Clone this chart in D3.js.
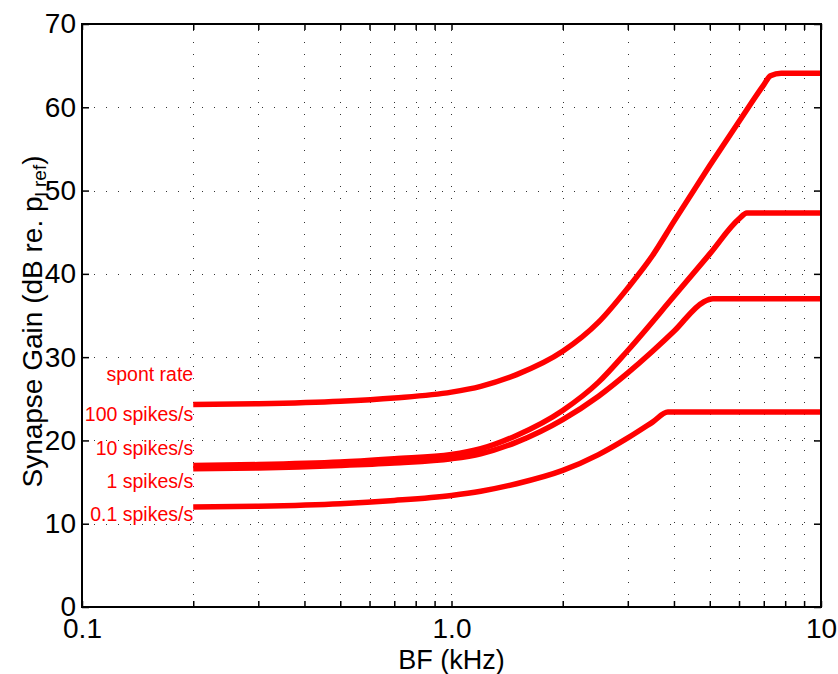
<!DOCTYPE html>
<html>
<head>
<meta charset="utf-8">
<script src="https://cdn.jsdelivr.net/npm/d3@7"></script>
<style>
  body { margin: 0; background: #fff; }
  svg { display: block; font-family: "Liberation Sans", Arial, Helvetica, sans-serif; }
  .grid line { stroke: #333; stroke-width: 1; stroke-dasharray: 1, 11; shape-rendering: crispEdges; }
  .axis path { display: none; }
  .axis line { stroke: #000; stroke-width: 1.5; }
  .axis text { font-size: 28px; fill: #000; }
  .curve { fill: none; stroke: #f00; stroke-width: 5.5; stroke-linejoin: round; }
  .note { font-size: 19.5px; fill: #f00; text-anchor: end; }
</style>
</head>
<body>
<svg width="838" height="674"></svg>
<script>
'use strict';

/* Curve values: frequency (kHz) and gain (dB). */
var spontFreq = [0.2, 0.3, 0.5, 0.7, 1.0, 1.2, 1.5, 2.0, 2.5, 3.0, 3.5, 4.0, 5.0, 6.0, 7.0, 7.3, 7.8, 10];
var spontGain = [24.3, 24.4, 24.7, 25.1, 25.8, 26.5, 27.9, 30.7, 34.2, 38.3, 42.2, 46.3, 53.0, 58.3, 62.7, 63.8, 64.1, 64.1];

var highFreq = [0.2, 0.3, 0.5, 0.7, 1.0, 1.2, 1.5, 2.0, 2.5, 3.0, 4.0, 5.0, 6.0, 6.3, 10];
var highGain = [17.0, 17.1, 17.4, 17.8, 18.3, 19.0, 20.6, 23.6, 27.0, 30.8, 37.3, 42.4, 46.6, 47.3, 47.3];

var midFreq = [0.2, 0.3, 0.5, 0.7, 1.0, 1.2, 1.5, 2.0, 2.5, 3.0, 3.5, 4.0, 4.8, 5.1, 10];
var midGain = [16.6, 16.7, 17.0, 17.3, 17.8, 18.4, 19.8, 22.5, 25.3, 28.1, 30.7, 33.1, 36.6, 37.0, 37.0];

var lowFreq = [0.2, 0.3, 0.5, 0.7, 1.0, 1.2, 1.5, 2.0, 2.5, 3.0, 3.5, 3.85, 10];
var lowGain = [12.0, 12.1, 12.4, 12.8, 13.4, 13.9, 14.8, 16.4, 18.3, 20.3, 22.2, 23.4, 23.4];

/* Annotation texts and the gain (dB) of their baselines, at 0.2 kHz. */
var noteTexts = ['spont rate', '100 spikes/s', '10 spikes/s', '1 spikes/s', '0.1 spikes/s'];
var noteGains = [27.1, 22.3, 18.2, 14.25, 10.3];

/* Ticks. */
var xTicks = [0.2, 0.3, 0.4, 0.5, 0.6, 0.7, 0.8, 0.9, 1, 2, 3, 4, 5, 6, 7, 8, 9];
var xLabels = {0.1: '0.1', 1: '1.0', 10: '10'};
var yTicks = [0, 10, 20, 30, 40, 50, 60, 70];

var svg = d3.select('svg');
var margin = {top: 24, right: 17, bottom: 67, left: 82};
var width = 838 - margin.left - margin.right;
var height = 674 - margin.top - margin.bottom;

var x = d3.scaleLog().domain([0.1, 10]).range([0, width]);
var y = d3.scaleLinear().domain([0, 70]).range([height, 0]);

var group = svg
  .append('g')
  .attr('transform', 'translate(' + margin.left + ',' + margin.top + ')');

/* Dotted grid. */
var grid = group.append('g').attr('class', 'grid');

grid.selectAll('.gx')
  .data(xTicks)
  .enter()
  .append('line')
  .attr('x1', function (d) { return Math.round(x(d)) + 0.5; })
  .attr('x2', function (d) { return Math.round(x(d)) + 0.5; })
  .attr('y1', height)
  .attr('y2', 0);

grid.selectAll('.gy')
  .data(yTicks.slice(1, -1))
  .enter()
  .append('line')
  .attr('y1', function (d) { return Math.round(y(d)) + 0.5; })
  .attr('y2', function (d) { return Math.round(y(d)) + 0.5; })
  .attr('x1', 0)
  .attr('x2', width);

/* Curves. */
var line = d3.line()
  .x(function (d) { return x(d[0]); })
  .y(function (d) { return y(d[1]); })
  .curve(d3.curveMonotoneX);

var series = [
  d3.zip(spontFreq, spontGain),
  d3.zip(highFreq, highGain),
  d3.zip(midFreq, midGain),
  d3.zip(lowFreq, lowGain)
];

group.selectAll('.curve')
  .data(series)
  .enter()
  .append('path')
  .attr('class', 'curve')
  .attr('d', line);

/* Red notes. */
group.selectAll('.note')
  .data(noteTexts)
  .enter()
  .append('text')
  .attr('class', 'note')
  .attr('x', x(0.2))
  .attr('y', function (d, i) { return y(noteGains[i]); })
  .text(function (d) { return d; });

/* Axes, ticks pointing inward. */
function xFormat(d) {
  return xLabels[d] || '';
}

var allX = [0.1].concat(xTicks, [10]);

group.append('g')
  .attr('class', 'axis')
  .attr('transform', 'translate(0,' + height + ')')
  .call(d3.axisBottom(x).tickValues(allX).tickFormat(xFormat).tickSize(-6).tickPadding(11));

group.append('g')
  .attr('class', 'axis')
  .call(d3.axisTop(x).tickValues(allX).tickFormat('').tickSize(-6));

group.append('g')
  .attr('class', 'axis')
  .call(d3.axisLeft(y).tickValues(yTicks).tickSize(-7).tickPadding(6));

group.append('g')
  .attr('class', 'axis')
  .attr('transform', 'translate(' + width + ',0)')
  .call(d3.axisRight(y).tickValues(yTicks).tickFormat('').tickSize(-7));

/* Box. */
group.append('rect')
  .attr('width', width)
  .attr('height', height)
  .attr('fill', 'none')
  .attr('stroke', '#000')
  .attr('stroke-width', 2);

/* Axis titles. */
svg.append('text')
  .attr('x', margin.left + width / 2)
  .attr('y', 669)
  .attr('text-anchor', 'middle')
  .style('font-size', '27px')
  .text('BF (kHz)');

var ylab = svg.append('text')
  .attr('transform', 'translate(42,' + (margin.top + height / 2 + 6) + ') rotate(-90)')
  .attr('text-anchor', 'middle')
  .style('font-size', '28px');

ylab.append('tspan').text('Synapse Gain (dB re. p');
ylab.append('tspan').attr('dy', 6).style('font-size', '19px').text('l');
ylab.append('tspan').attr('dy', -2).style('font-size', '19px').text(' ref');
ylab.append('tspan').attr('dy', -4).text(')');
</script>
</body>
</html>
